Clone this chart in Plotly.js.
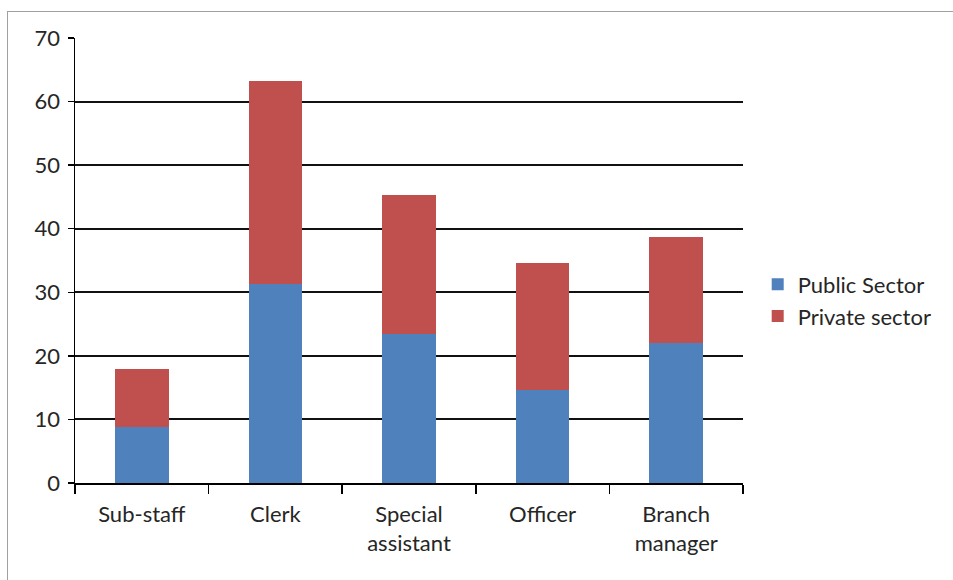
<!DOCTYPE html>
<html>
<head>
<meta charset="utf-8">
<script src="https://cdn.plot.ly/plotly-3.0.1.min.js"></script>
<style>
html,body{margin:0;padding:0;background:#fff;}
#frame{position:absolute;left:7px;top:11px;width:960px;height:600px;border-left:1px solid #a0a0a0;border-top:1px solid #a0a0a0;}
#chart{position:absolute;left:0;top:0;width:953px;height:580px;}
</style>
</head>
<body>
<div id="frame"></div>
<div id="chart"></div>
<script>
var categories = ["Sub-staff", "Clerk", "Special assistant", "Officer", "Branch manager"];
var tickLabels = ["Sub-staff", "Clerk", "Special<br>assistant", "Officer", "Branch<br>manager"];
var publicSector = [8.8, 31.3, 23.4, 14.7, 22.0];
var privateSector = [9.2, 32.0, 21.9, 19.9, 16.7];

var fam = "Lato, Noto Sans, sans-serif";
var txt = "#262626";

var traces = [
  {type: "bar", name: "Public Sector", x: categories, y: publicSector,
   marker: {color: "#4F81BD"}},
  {type: "bar", name: "Private sector", x: categories, y: privateSector,
   marker: {color: "#C0504D"}}
];

var layout = {
  width: 953, height: 580,
  margin: {l: 75, r: 210, t: 38, b: 97},
  barmode: "stack",
  bargap: 0.6,
  paper_bgcolor: "rgba(0,0,0,0)",
  plot_bgcolor: "rgba(0,0,0,0)",
  font: {family: fam, size: 22, color: txt},
  showlegend: true,
  legend: {x: 1.022, xanchor: "left", y: 0.41, yanchor: "middle",
           traceorder: "normal",
           font: {family: fam, size: 22, color: txt},
           tracegroupgap: 0, itemwidth: 30},
  xaxis: {
    type: "category",
    tickmode: "array", tickvals: categories, ticktext: tickLabels,
    tickson: "boundaries",
    ticks: "outside", ticklen: 9, tickcolor: "#000", tickwidth: 1.5,
    showline: true, linecolor: "#000", linewidth: 1.5,
    showgrid: false,
    ticklabelstandoff: 11,
    tickfont: {family: fam, size: 22, color: txt}
  },
  yaxis: {
    range: [0, 70], dtick: 10,
    ticks: "outside", ticklen: 6, tickcolor: "#000", tickwidth: 1.5,
    showline: true, linecolor: "#000", linewidth: 1.5,
    showgrid: true, gridcolor: "#111", gridwidth: 2,
    zeroline: false,
    ticklabelstandoff: 3,
    tickfont: {family: fam, size: 22, color: txt}
  }
};

Plotly.newPlot("chart", traces, layout, {displayModeBar: false, staticPlot: true});
</script>
</body>
</html>
